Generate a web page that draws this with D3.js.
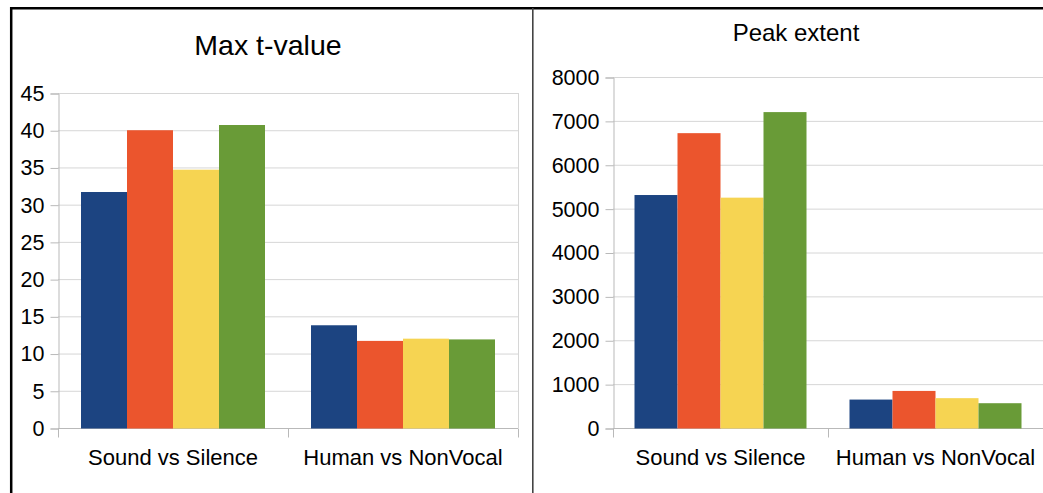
<!DOCTYPE html>
<html>
<head>
<meta charset="utf-8">
<script src="https://cdn.jsdelivr.net/npm/d3@7/dist/d3.min.js"></script>
<style>
  html, body { margin: 0; padding: 0; background: #fff; }
  svg { display: block; font-family: "Liberation Sans", Arial, sans-serif; }
</style>
</head>
<body>
<svg id="chart" width="1043" height="493"></svg>
<script>
// ---- data ----
const categories = ["Sound vs Silence", "Human vs NonVocal"];
const seriesNames = ["Series 1", "Series 2", "Series 3", "Series 4"];
const seriesColors = ["#1c4481", "#eb552d", "#f6d452", "#699b37"];

const tvalTitle = "Max t-value";
const tvalSeries1 = [31.7, 13.8];
const tvalSeries2 = [40.0, 11.7];
const tvalSeries3 = [34.7, 12.0];
const tvalSeries4 = [40.7, 11.9];
const tvalTicks = [0, 5, 10, 15, 20, 25, 30, 35, 40, 45];

const extTitle = "Peak extent";
const extSeries1 = [5310, 648];
const extSeries2 = [6720, 845];
const extSeries3 = [5250, 680];
const extSeries4 = [7200, 565];
const extTicks = [0, 1000, 2000, 3000, 4000, 5000, 6000, 7000, 8000];

const svg = d3.select("#chart");

function drawChart(cfg) {
  const { title, series, ticks, left, right, top, bottom, titleX, titleY, titleSize } = cfg;
  const g = svg.append("g");
  const y = d3.scaleLinear().domain([0, d3.max(ticks)]).range([bottom, top]);
  const x0 = d3.scaleBand().domain(categories).range([left, right]).paddingInner(0).paddingOuter(0);
  const x1 = d3.scaleBand().domain(seriesNames).range([0, x0.bandwidth()]).paddingInner(0).paddingOuter(0.5);

  // gridlines
  g.selectAll("line.grid").data(ticks).join("line")
    .attr("x1", left).attr("x2", right)
    .attr("y1", d => y(d) + 0.5).attr("y2", d => y(d) + 0.5)
    .attr("stroke", "#d6d6d6").attr("stroke-width", 1);
  // right wall
  g.append("line").attr("x1", right + 0.5).attr("x2", right + 0.5)
    .attr("y1", top).attr("y2", bottom).attr("stroke", "#d6d6d6");

  // y axis
  const yAxis = d3.axisLeft(y).tickValues(ticks).tickSize(8).tickPadding(6).tickFormat(d3.format("d"));
  const ya = g.append("g").attr("transform", `translate(${left + 0.5},0.5)`).call(yAxis);
  ya.select(".domain").attr("stroke", "#b9b9b9");
  ya.selectAll(".tick line").attr("stroke", "#b9b9b9");
  ya.selectAll("text").attr("font-size", 21.5).attr("fill", "#000")
    .attr("font-family", "Liberation Sans, Arial, sans-serif");

  // x axis
  const xa = g.append("g").attr("transform", `translate(0,${bottom + 0.5})`);
  xa.append("line").attr("x1", left).attr("x2", right).attr("stroke", "#b9b9b9");
  const bounds = [left, ...categories.map(c => x0(c) + x0.bandwidth())];
  xa.selectAll("line.tk").data(bounds).join("line")
    .attr("x1", d => d + 0.5).attr("x2", d => d + 0.5)
    .attr("y1", 0).attr("y2", 9).attr("stroke", "#b9b9b9");
  xa.selectAll("text").data(categories).join("text")
    .attr("x", d => x0(d) + x0.bandwidth() / 2)
    .attr("y", 36)
    .attr("text-anchor", "middle")
    .attr("font-size", 22).attr("fill", "#000")
    .text(d => d);

  // bars
  const groups = g.append("g").selectAll("g").data(categories).join("g")
    .attr("transform", d => `translate(${x0(d)},0)`);
  groups.selectAll("rect").data((c, ci) => series.map((s, si) => ({ s: seriesNames[si], v: s[ci], i: si })))
    .join("rect")
    .attr("x", d => x1(d.s))
    .attr("y", d => y(d.v))
    .attr("width", x1.bandwidth())
    .attr("height", d => bottom - y(d.v) + 0.5)
    .attr("fill", d => seriesColors[d.i]);

  // title
  g.append("text").attr("x", titleX).attr("y", titleY)
    .attr("text-anchor", "middle").attr("font-size", titleSize).attr("fill", "#000")
    .text(title);
}

drawChart({
  title: tvalTitle,
  series: [tvalSeries1, tvalSeries2, tvalSeries3, tvalSeries4],
  ticks: tvalTicks,
  left: 58, right: 518, top: 93, bottom: 428,
  titleX: 268, titleY: 55, titleSize: 28.5
});

drawChart({
  title: extTitle,
  series: [extSeries1, extSeries2, extSeries3, extSeries4],
  ticks: extTicks,
  left: 613, right: 1043, top: 77, bottom: 428,
  titleX: 796, titleY: 41, titleSize: 24
});

// outer frame
svg.append("line").attr("x1", 10).attr("x2", 1043).attr("y1", 8.2).attr("y2", 8.2)
  .attr("stroke", "#000").attr("stroke-width", 2.5);
svg.append("line").attr("x1", 11.2).attr("x2", 11.2).attr("y1", 7).attr("y2", 493)
  .attr("stroke", "#000").attr("stroke-width", 2.5);
svg.append("line").attr("x1", 532.8).attr("x2", 532.8).attr("y1", 8).attr("y2", 493)
  .attr("stroke", "#444").attr("stroke-width", 1.6);
</script>
</body>
</html>
